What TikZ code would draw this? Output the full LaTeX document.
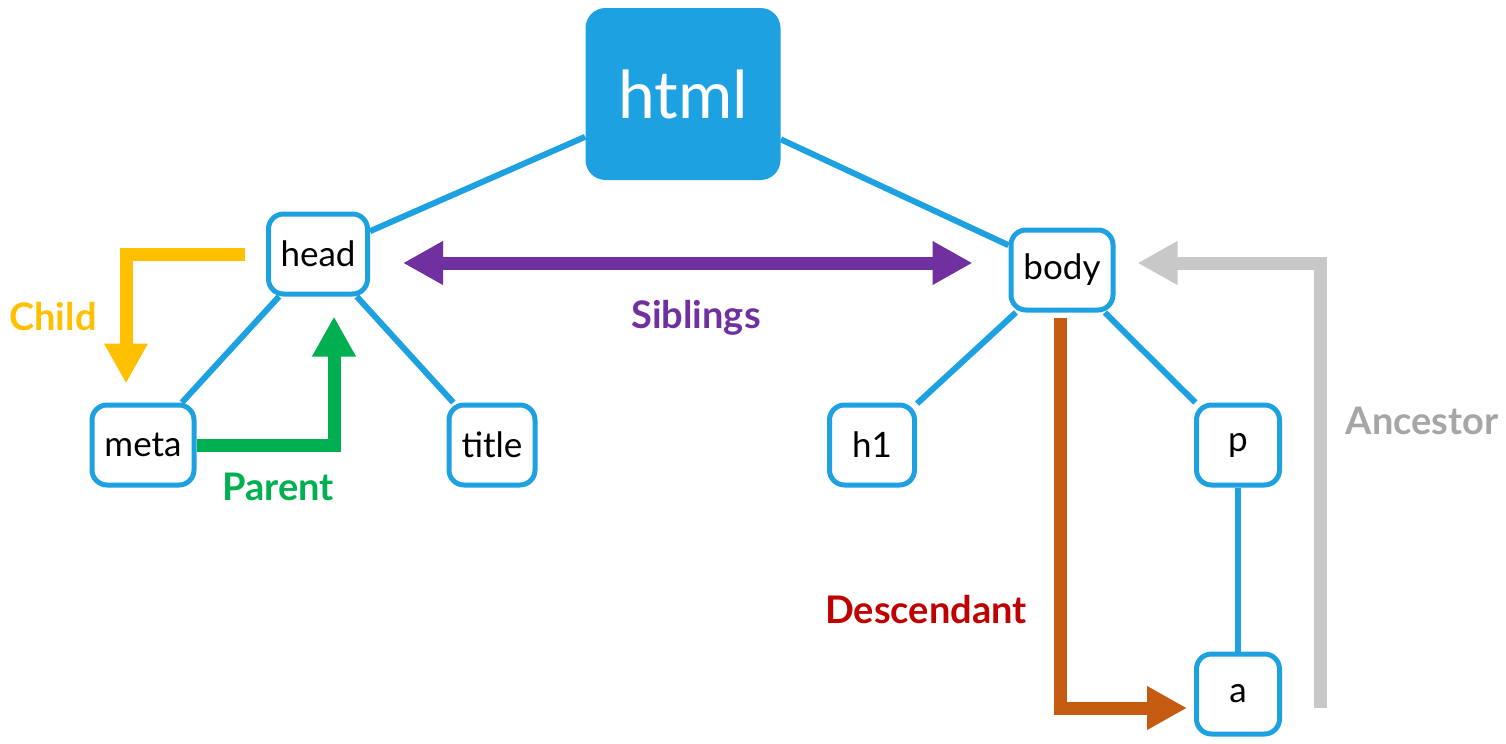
\documentclass[tikz,border=0pt]{standalone}
\usepackage{fontspec}
\setmainfont{Lato}
\usetikzlibrary{arrows.meta}
\definecolor{domblue}{HTML}{1EA1E1}
\definecolor{childc}{HTML}{FFC000}
\definecolor{parentc}{HTML}{00B050}
\definecolor{siblc}{HTML}{7030A0}
\definecolor{descarr}{HTML}{C55A11}
\definecolor{desctxt}{HTML}{C00000}
\definecolor{ancarr}{HTML}{C8C8C8}
\definecolor{anctxt}{HTML}{A6A6A6}
\tikzset{
  tag/.style={draw=domblue, line width=2.5pt, rounded corners=7.5pt, fill=white,
    minimum height=40pt, inner sep=0pt, font=\fontsize{17.5}{20}\selectfont},
  link/.style={domblue, line width=3pt},
  rel/.style={line width=6.5pt, -{Triangle[length=20pt,width=20.5pt]}},
  rellabel/.style={font=\bfseries\fontsize{19}{22}\selectfont}
}
\begin{document}
\begin{tikzpicture}[x=0.5pt,y=-0.5pt]
                    \useasboundingbox (0,0) rectangle (1506,744);
                    \node[fill=domblue, rounded corners=10pt, minimum width=97.5pt, minimum height=86pt,
                          text=white, font=\fontsize{33}{36}\selectfont] (html) at (683,94) {html};
                    \node[tag, minimum width=49.5pt] (head) at (318,254) {head};
                    \node[tag, minimum width=51pt] (body) at (1062,270) {body};
                    \node[tag, minimum width=51pt] (meta) at (143,445) {meta};
                    \node[tag, minimum width=43pt] (title) at (492,445) {title};
                    \node[tag, minimum width=42.5pt] (h1) at (872,445) {h1};
                    \node[tag, minimum width=41.5pt] (p) at (1238,445) {p};
                    \node[tag, minimum width=41.5pt] (a) at (1238,694) {a};
                    \draw[link] (html) -- (head);
                    \draw[link] (html) -- (body);
                    \draw[link] (head) -- (meta);
                    \draw[link] (head) -- (title);
                    \draw[link] (body) -- (h1);
                    \draw[link] (body) -- (p);
                    \draw[link] (p) -- (a);
                    % relations
                    \draw[rel, childc] ([xshift=-10.5pt]head.west) -| ([xshift=-8.5pt,yshift=9.5pt]meta.north);
                    \draw[rel, parentc] (meta.east) -| ([xshift=8pt,yshift=-10pt]head.south);
                    \draw[rel, siblc, {Triangle[length=20pt,width=20.5pt]}-{Triangle[length=20pt,width=20.5pt]}]
                          ([xshift=16.5pt,yshift=-4.5pt]head.east) -- ([xshift=-18pt,yshift=3.5pt]body.west);
                    \draw[rel, descarr] ([xshift=-1pt,yshift=-2.5pt]body.south) |- ([xshift=-3.5pt,yshift=-7pt]a.west);
                    \draw[rel, ancarr] ([xshift=19pt,yshift=-7pt]a.east) |- ([xshift=11pt,yshift=3.5pt]body.east);
                    \node[rellabel, childc] (lchild) at (53,317) {Child};
                    \node[rellabel, parentc] (lparent) at (278,487) {Parent};
                    \node[rellabel, siblc] (lsibl) at (696,318) {Siblings};
                    \node[rellabel, desctxt] (ldesc) at (926,610) {Descendant};
                    \node[rellabel, anctxt] (lanc) at (1422,421) {Ancestor};
                \end{tikzpicture}
\end{document}
